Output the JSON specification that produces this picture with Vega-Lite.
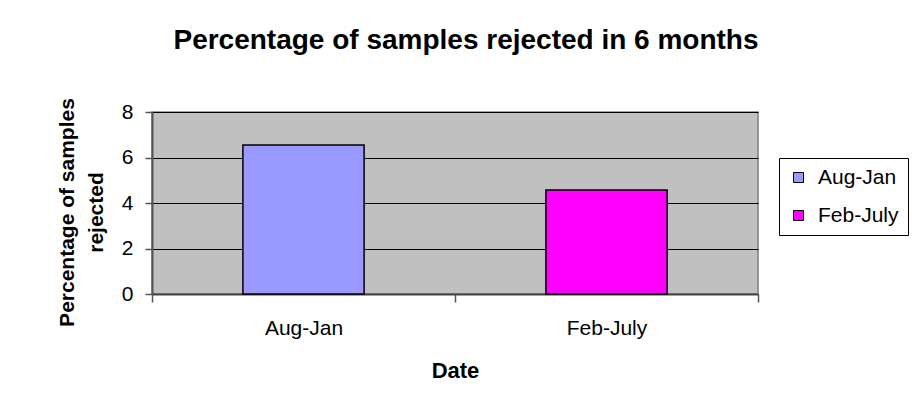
{
  "$schema": "https://vega.github.io/schema/vega-lite/v6.json",
  "autosize": {"type": "none"},
  "padding": {"left": 152, "top": 112, "right": 160, "bottom": 120},
  "width": 606,
  "height": 182,
  "background": "white",
  "title": {
    "text": "Percentage of samples rejected in 6 months",
    "font": "Liberation Sans",
    "fontSize": 28,
    "fontWeight": "bold",
    "color": "black",
    "anchor": "middle",
    "frame": "group",
    "baseline": "alphabetic",
    "offset": 21,
    "dx": 11
  },
  "data": {
    "values": [
      {"period": "Aug-Jan", "percent": 6.55},
      {"period": "Feb-July", "percent": 4.57}
    ]
  },
  "mark": {"type": "bar", "stroke": "black", "strokeWidth": 1.5, "width": {"band": 0.4}},
  "encoding": {
    "x": {
      "field": "period",
      "type": "nominal",
      "sort": null,
      "scale": {"paddingInner": 0, "paddingOuter": 0},
      "axis": {
        "title": "Date",
        "labelAngle": 0,
        "tickBand": "extent",
        "tickSize": 8,
        "tickColor": "#555555",
        "tickWidth": 1.5,
        "domainColor": "#444444",
        "domainWidth": 2,
        "labelBaseline": "alphabetic",
        "labelPadding": 32,
        "titleBaseline": "alphabetic",
        "titleY": 83,
        "grid": false
      }
    },
    "y": {
      "field": "percent",
      "type": "quantitative",
      "scale": {"domain": [0, 8]},
      "axis": {
        "title": ["Percentage of samples", "rejected"],
        "values": [0, 2, 4, 6, 8],
        "tickSize": 7,
        "tickColor": "#555555",
        "tickWidth": 1.5,
        "domainColor": "#555555",
        "domainWidth": 2,
        "labelPadding": 12,
        "grid": true,
        "gridColor": "black",
        "gridWidth": 1,
        "titleFontSize": 21,
        "titleBaseline": "alphabetic",
        "titleAlign": "center",
        "titleAngle": -90,
        "titleX": -79,
        "titleY": 100,
        "titleLineHeight": 29
      }
    },
    "color": {
      "field": "period",
      "type": "nominal",
      "sort": null,
      "scale": {"domain": ["Aug-Jan", "Feb-July"], "range": ["#9999FF", "#FF00FF"]},
      "legend": {
        "title": null,
        "orient": "none",
        "legendX": 627,
        "legendY": 46,
        "padding": 9,
        "fillColor": "white",
        "strokeColor": "black",
        "symbolType": "square",
        "symbolSize": 100,
        "symbolStrokeColor": "black",
        "symbolStrokeWidth": 1,
        "labelFontSize": 21,
        "labelFont": "Liberation Sans",
        "labelColor": "black",
        "labelOffset": 9,
        "rowPadding": 16
      }
    }
  },
  "config": {
    "view": {"fill": "#C0C0C0", "stroke": "#808080", "strokeWidth": 1.5},
    "axis": {
      "labelFont": "Liberation Sans",
      "labelFontSize": 21,
      "labelColor": "black",
      "titleFont": "Liberation Sans",
      "titleFontSize": 22,
      "titleFontWeight": "bold",
      "titleColor": "black"
    }
  }
}
